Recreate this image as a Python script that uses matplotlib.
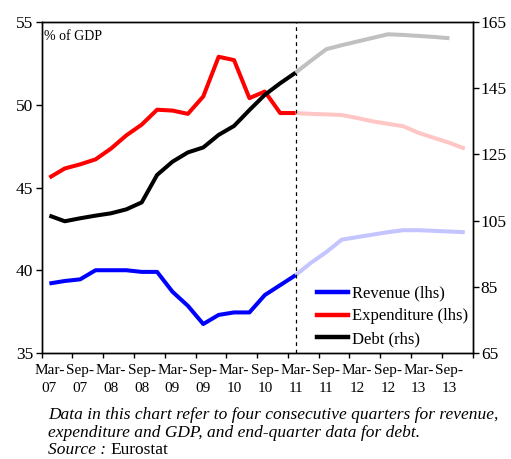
"""
Government revenue, expenditure and debt (% of GDP), outturn to Mar-11 and
projection thereafter.  Revenue / expenditure on the left axis, debt on the right.
"""

import matplotlib
matplotlib.use("Agg")
import matplotlib.pyplot as plt
from matplotlib.lines import Line2D
from matplotlib.text import Annotation
from matplotlib.ticker import FixedLocator, NullFormatter

plt.rcParams["font.family"] = ["Liberation Serif", "DejaVu Serif"]

# ---------------------------------------------------------------------------
# Data (quarterly, Mar-07 .. Dec-13; index 16 = Mar-11 is the last outturn)
# ---------------------------------------------------------------------------

tick_labels = ["Mar-\n07", "Sep-\n07", "Mar-\n08", "Sep-\n08", "Mar-\n09",
               "Sep-\n09", "Mar-\n10", "Sep-\n10", "Mar-\n11", "Sep-\n11",
               "Mar-\n12", "Sep-\n12", "Mar-\n13", "Sep-\n13"]
n_quarters = 28
last_actual = 16

revenue = [39.2, 39.35, 39.45, 40.0, 40.0, 40.0, 39.9, 39.9, 38.7, 37.85,
           36.75, 37.3, 37.45, 37.45, 38.5, 39.1, 39.7]
revenue_proj = [39.7, 40.45, 41.1, 41.85, 42.0, 42.15, 42.3, 42.42, 42.42,
                42.38, 42.34, 42.3]

expenditure = [45.6, 46.15, 46.4, 46.7, 47.35, 48.15, 48.8, 49.7, 49.65,
               49.45, 50.5, 52.9, 52.7, 50.4, 50.8, 49.5, 49.5]
expenditure_proj = [49.5, 49.45, 49.42, 49.38, 49.2, 49.0, 48.85, 48.7,
                    48.3, 48.0, 47.7, 47.35]

debt = [106.5, 104.8, 105.7, 106.5, 107.2, 108.4, 110.5, 118.8, 122.8,
        125.6, 127.1, 130.9, 133.6, 138.4, 143.0, 146.5, 149.7]
debt_proj = [149.7, 153.3, 156.8, 158.0, 159.1, 160.2, 161.3, 161.1, 160.8,
             160.5, 160.1]

# ---------------------------------------------------------------------------
# Plot
# ---------------------------------------------------------------------------

lw = 2.9

fig = plt.figure(figsize=(5.11, 4.59), dpi=100)
ax = fig.add_axes([0.0816, 0.231, 0.8431, 0.721])
ax2 = ax.twinx()

x_act = list(range(len(revenue)))


def proj_x(vals):
    return list(range(last_actual, last_actual + len(vals)))


ax.plot(proj_x(revenue_proj), revenue_proj, color="#c4c4ff", lw=lw,
        solid_capstyle="butt")
ax.plot(proj_x(expenditure_proj), expenditure_proj, color="#ffc6c6", lw=lw,
        solid_capstyle="butt")
ax.plot(x_act, revenue, color="#0000ff", lw=lw, solid_capstyle="butt")
ax.plot(x_act, expenditure, color="#ff0000", lw=lw, solid_capstyle="butt")

ax2.plot(proj_x(debt_proj), debt_proj, color="#c0c0c0", lw=lw,
         solid_capstyle="butt")
ax2.plot(x_act, debt, color="black", lw=lw, solid_capstyle="butt")

ax.axvline(last_actual, color="black", lw=0.9, ls=(0, (3, 3)))

ax.set_xlim(-0.5, n_quarters - 0.5)
ax.set_ylim(35, 55)
ax2.set_ylim(65, 165)
ax.set_yticks([35, 40, 45, 50, 55])
ax2.set_yticks([65, 85, 105, 125, 145, 165])

# category axis: labels on every second quarter, tick marks between pairs
ax.set_xticks(range(0, n_quarters, 2))
ax.set_xticklabels(tick_labels, fontsize=11, linespacing=1.5)
ax.xaxis.set_minor_locator(FixedLocator([i - 0.5 for i in range(0, n_quarters + 1, 2)]))
ax.xaxis.set_minor_formatter(NullFormatter())
ax.tick_params(axis="x", which="major", length=0, pad=8)
ax.tick_params(axis="x", which="minor", length=3.5, width=1, direction="out")
ax.tick_params(axis="y", length=4, width=1, labelsize=12.5, pad=2)
ax2.tick_params(axis="y", length=4, width=1, labelsize=12.5, pad=2)

for a in (ax, ax2):
    for sp in a.spines.values():
        sp.set_linewidth(1.0)

ax.text(0.005, 0.975, "% of GDP", transform=ax.transAxes, fontsize=10,
        ha="left", va="top")

handles = [Line2D([], [], color="#0000ff", lw=3.2),
           Line2D([], [], color="#ff0000", lw=3.2),
           Line2D([], [], color="black", lw=3.2)]
ax2.legend(handles, ["Revenue (lhs)", "Expenditure (lhs)", "Debt (rhs)"],
           loc="lower left", bbox_to_anchor=(0.64, 0.018), frameon=False,
           fontsize=12, handlelength=1.85, handletextpad=0.2,
           labelspacing=0.4, borderpad=0, borderaxespad=0)

# caption
cap_x = 48 / 511
fig.text(cap_x, 1 - 415 / 459,
         "Data in this chart refer to four consecutive quarters for revenue,",
         fontsize=12.5, style="italic", va="center")
fig.text(cap_x, 1 - 433 / 459,
         "expenditure and GDP, and end-quarter data for debt.",
         fontsize=12.5, style="italic", va="center")
src = fig.text(cap_x, 1 - 450 / 459, "Source :", fontsize=12.5,
               style="italic", va="center")
fig.add_artist(Annotation(
    "Eurostat", xy=(1, 0), xycoords=src, xytext=(3, 0),
    textcoords="offset points", fontsize=12.5, va="bottom", ha="left"))

fig.savefig("out.png", dpi=100)
